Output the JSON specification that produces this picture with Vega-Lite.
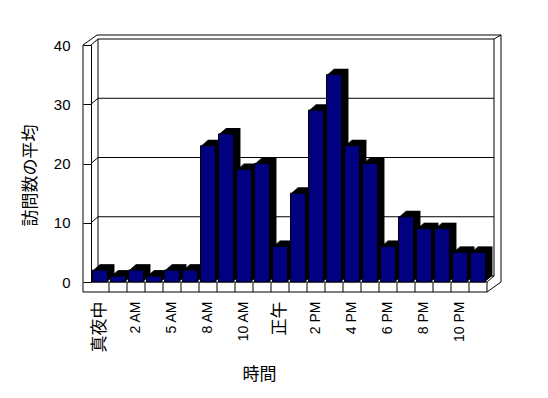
{
  "$schema": "https://vega.github.io/schema/vega-lite/v6.json",
  "width": 396,
  "height": 237,
  "autosize": {"type": "none"},
  "padding": {"left": 91, "top": 45, "right": 61, "bottom": 116},
  "background": "white",
  "config": {
    "view": {"stroke": null},
    "font": "Liberation Sans, Noto Sans CJK JP",
    "rule": {"color": "black", "strokeWidth": 1},
    "axis": {"labelColor": "black", "titleColor": "black"},
    "axisX": {"labelFontSize": 14},
    "axisY": {"labelFontSize": 15}
  },
  "datasets": {
    "hours": [
      {"h": "真夜中", "v": 2},
      {"h": "1 AM", "v": 1},
      {"h": "2 AM", "v": 2},
      {"h": "3 AM", "v": 1},
      {"h": "5 AM", "v": 2},
      {"h": "7 AM", "v": 2},
      {"h": "8 AM", "v": 23},
      {"h": "9 AM", "v": 25},
      {"h": "10 AM", "v": 19},
      {"h": "11 AM", "v": 20},
      {"h": "正午", "v": 6},
      {"h": "1 PM", "v": 15},
      {"h": "2 PM", "v": 29},
      {"h": "3 PM", "v": 35},
      {"h": "4 PM", "v": 23},
      {"h": "5 PM", "v": 20},
      {"h": "6 PM", "v": 6},
      {"h": "7 PM", "v": 11},
      {"h": "8 PM", "v": 9},
      {"h": "9 PM", "v": 9},
      {"h": "10 PM", "v": 5},
      {"h": "11 PM", "v": 5}
    ],
    "grid": [{"v": 0}, {"v": 10}, {"v": 20}, {"v": 30}, {"v": 40}],
    "one": [{"k": 1}]
  },
  "layer": [
    {
      "data": {"name": "grid"},
      "mark": {"type": "rule", "xOffset": 7, "x2Offset": 7, "yOffset": -6},
      "encoding": {
        "y": {"field": "v", "type": "quantitative"},
        "x": {"datum": "真夜中", "type": "nominal", "bandPosition": 0},
        "x2": {"datum": "11 PM", "bandPosition": 1}
      }
    },
    {
      "data": {"name": "one"},
      "mark": {"type": "rule", "xOffset": 7, "yOffset": -6, "y2Offset": -6},
      "encoding": {
        "x": {"datum": "真夜中", "type": "nominal", "bandPosition": 0},
        "y": {"datum": 0, "type": "quantitative"},
        "y2": {"datum": 40}
      }
    },
    {
      "data": {"name": "one"},
      "mark": {"type": "rule", "xOffset": 7, "yOffset": -6, "y2Offset": -6},
      "encoding": {
        "x": {"datum": "11 PM", "type": "nominal", "bandPosition": 1},
        "y": {"datum": 0, "type": "quantitative"},
        "y2": {"datum": 40}
      }
    },
    {
      "data": {"name": "grid"},
      "mark": {"type": "rule", "x2Offset": 7, "y2Offset": -6},
      "encoding": {
        "x": {"datum": "真夜中", "type": "nominal", "bandPosition": 0},
        "x2": {"datum": "真夜中", "bandPosition": 0},
        "y": {"field": "v", "type": "quantitative"},
        "y2": {"field": "v"}
      }
    },
    {
      "data": {"name": "one"},
      "mark": {"type": "rule", "x2Offset": 7, "y2Offset": -6},
      "encoding": {
        "x": {"datum": "11 PM", "type": "nominal", "bandPosition": 1},
        "x2": {"datum": "11 PM", "bandPosition": 1},
        "y": {"datum": 0, "type": "quantitative"},
        "y2": {"datum": 0}
      }
    },
    {
      "data": {"name": "one"},
      "mark": {"type": "rule", "xOffset": 7, "x2Offset": 14, "yOffset": -6, "y2Offset": -10},
      "encoding": {
        "x": {"datum": "11 PM", "type": "nominal", "bandPosition": 1},
        "x2": {"datum": "11 PM", "bandPosition": 1},
        "y": {"datum": 40, "type": "quantitative"},
        "y2": {"datum": 40}
      }
    },
    {
      "data": {"name": "one"},
      "mark": {"type": "rule", "xOffset": -8, "y2Offset": 10},
      "encoding": {
        "x": {"datum": "真夜中", "type": "nominal", "bandPosition": 0},
        "y": {"datum": 40, "type": "quantitative"},
        "y2": {"datum": 0}
      }
    },
    {
      "data": {"name": "one"},
      "mark": {"type": "rule", "xOffset": 6, "x2Offset": 14, "yOffset": -10},
      "encoding": {
        "x": {"datum": "真夜中", "type": "nominal", "bandPosition": 0},
        "x2": {"datum": "11 PM", "bandPosition": 1},
        "y": {"datum": 40, "type": "quantitative"}
      }
    },
    {
      "data": {"name": "one"},
      "mark": {"type": "rule", "xOffset": 14, "yOffset": -10},
      "encoding": {
        "x": {"datum": "11 PM", "type": "nominal", "bandPosition": 1},
        "y": {"datum": 40, "type": "quantitative"},
        "y2": {"datum": 0}
      }
    },
    {
      "data": {"name": "one"},
      "mark": {"type": "rule", "xOffset": -8, "x2Offset": 6, "y2Offset": -10},
      "encoding": {
        "x": {"datum": "真夜中", "type": "nominal", "bandPosition": 0},
        "x2": {"datum": "真夜中", "bandPosition": 0},
        "y": {"datum": 40, "type": "quantitative"},
        "y2": {"datum": 40}
      }
    },
    {
      "data": {"name": "one"},
      "mark": {"type": "rule", "x2Offset": 14, "yOffset": 10},
      "encoding": {
        "x": {"datum": "11 PM", "type": "nominal", "bandPosition": 1},
        "x2": {"datum": "11 PM", "bandPosition": 1},
        "y": {"datum": 0, "type": "quantitative"},
        "y2": {"datum": 0}
      }
    },
    {
      "data": {"name": "one"},
      "mark": {"type": "rule", "xOffset": -8, "yOffset": 10},
      "encoding": {
        "x": {"datum": "真夜中", "type": "nominal", "bandPosition": 0},
        "x2": {"datum": "11 PM", "bandPosition": 1},
        "y": {"datum": 0, "type": "quantitative"}
      }
    },
    {
      "data": {"name": "one"},
      "mark": {"type": "rule"},
      "encoding": {
        "x": {"datum": "真夜中", "type": "nominal", "bandPosition": 0},
        "x2": {"datum": "11 PM", "bandPosition": 1},
        "y": {"datum": 0, "type": "quantitative"}
      }
    },
    {
      "data": {"name": "hours"},
      "transform": [{"filter": "datum.h != '真夜中'"}],
      "mark": {"type": "rule", "y2Offset": 10},
      "encoding": {
        "x": {"field": "h", "type": "nominal", "sort": null, "bandPosition": 0},
        "y": {"datum": 0, "type": "quantitative"},
        "y2": {"datum": 0}
      }
    },
    {
      "data": {"name": "one"},
      "mark": {"type": "rule", "y2Offset": 10},
      "encoding": {
        "x": {"datum": "11 PM", "type": "nominal", "bandPosition": 1},
        "y": {"datum": 0, "type": "quantitative"},
        "y2": {"datum": 0}
      }
    },
    {
      "data": {"name": "hours"},
      "mark": {"type": "bar", "color": "black", "xOffset": 1.2, "yOffset": -1, "width": {"band": 0.83}},
      "encoding": {
        "x": {"field": "h", "type": "nominal", "sort": null},
        "y": {"field": "v", "type": "quantitative"}
      }
    },
    {
      "data": {"name": "hours"},
      "mark": {"type": "bar", "color": "black", "xOffset": 2.3, "yOffset": -2, "width": {"band": 0.83}},
      "encoding": {
        "x": {"field": "h", "type": "nominal", "sort": null},
        "y": {"field": "v", "type": "quantitative"}
      }
    },
    {
      "data": {"name": "hours"},
      "mark": {"type": "bar", "color": "black", "xOffset": 3.5, "yOffset": -3, "width": {"band": 0.83}},
      "encoding": {
        "x": {"field": "h", "type": "nominal", "sort": null},
        "y": {"field": "v", "type": "quantitative"}
      }
    },
    {
      "data": {"name": "hours"},
      "mark": {"type": "bar", "color": "black", "xOffset": 4.7, "yOffset": -4, "width": {"band": 0.83}},
      "encoding": {
        "x": {"field": "h", "type": "nominal", "sort": null},
        "y": {"field": "v", "type": "quantitative"}
      }
    },
    {
      "data": {"name": "hours"},
      "mark": {"type": "bar", "color": "black", "xOffset": 5.8, "yOffset": -5, "width": {"band": 0.83}},
      "encoding": {
        "x": {"field": "h", "type": "nominal", "sort": null},
        "y": {"field": "v", "type": "quantitative"}
      }
    },
    {
      "data": {"name": "hours"},
      "mark": {"type": "bar", "color": "black", "xOffset": 7, "yOffset": -6, "width": {"band": 0.83}},
      "encoding": {
        "x": {"field": "h", "type": "nominal", "sort": null},
        "y": {"field": "v", "type": "quantitative"}
      }
    },
    {
      "data": {"name": "hours"},
      "mark": {"type": "bar", "fill": "#000080", "stroke": "black", "strokeWidth": 1, "width": {"band": 0.83}},
      "encoding": {
        "x": {
          "field": "h",
          "type": "nominal",
          "sort": null,
          "scale": {
            "domain": ["真夜中", "1 AM", "2 AM", "3 AM", "5 AM", "7 AM", "8 AM", "9 AM", "10 AM", "11 AM", "正午", "1 PM", "2 PM", "3 PM", "4 PM", "5 PM", "6 PM", "7 PM", "8 PM", "9 PM", "10 PM", "11 PM"],
            "paddingInner": 0,
            "paddingOuter": 0
          },
          "axis": {
            "title": "時間",
            "values": ["真夜中", "2 AM", "5 AM", "8 AM", "10 AM", "正午", "2 PM", "4 PM", "6 PM", "8 PM", "10 PM"],
            "domain": false,
            "ticks": false,
            "labelAngle": -90,
            "labelAlign": "right",
            "labelBaseline": "middle",
            "labelPadding": 19,
            "labelColor": "black",
            "labelFontSize": {"condition": [{"test": "datum.value == '真夜中' || datum.value == '正午'", "value": 17}, {"test": "datum.value != '真夜中' && datum.value != '正午'", "value": 14}], "value": 14},
            "labelOverlap": false,
            "titleFontSize": 17,
            "titleFontWeight": "normal",
            "titleColor": "black",
            "titleX": 168,
            "titleY": 92,
            "titleBaseline": "middle",
            "titleAlign": "center"
          }
        },
        "y": {
          "field": "v",
          "type": "quantitative",
          "scale": {"domain": [0, 40], "nice": false},
          "axis": {
            "title": "訪問数の平均",
            "values": [0, 10, 20, 30, 40],
            "grid": false,
            "domainColor": "black",
            "tickColor": "black",
            "tickSize": 8,
            "labelPadding": 13,
            "labelFontSize": 15,
            "labelColor": "black",
            "titleFontSize": 17,
            "titleFontWeight": "normal",
            "titleColor": "black",
            "titleAngle": -90,
            "titleX": -61,
            "titleY": 130,
            "titleBaseline": "middle",
            "titleAlign": "center"
          }
        }
      }
    }
  ]
}
